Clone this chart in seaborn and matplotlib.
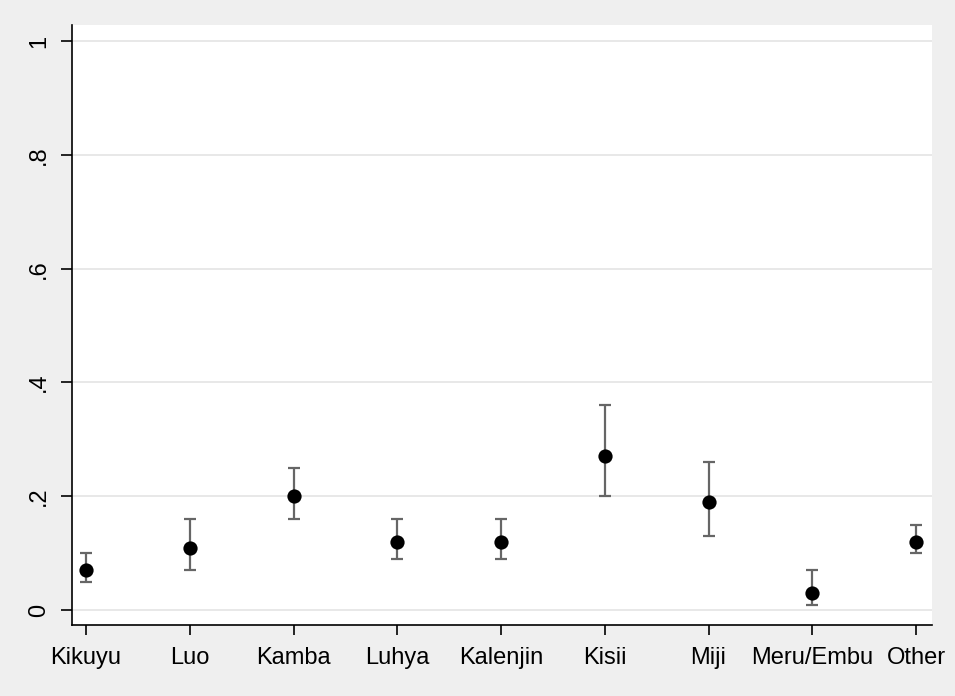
import numpy as np
import pandas as pd
import matplotlib
matplotlib.use("Agg")
import matplotlib.pyplot as plt
import seaborn as sns

# Values
groups = ["Kikuyu", "Luo", "Kamba", "Luhya", "Kalenjin", "Kisii", "Miji", "Meru/Embu", "Other"]
estimate = [0.07, 0.11, 0.20, 0.12, 0.12, 0.27, 0.19, 0.03, 0.12]
lower = [0.05, 0.07, 0.16, 0.09, 0.09, 0.20, 0.13, 0.01, 0.10]
upper = [0.10, 0.16, 0.25, 0.16, 0.16, 0.36, 0.26, 0.07, 0.15]
yticks = [0, 0.2, 0.4, 0.6, 0.8, 1.0]
ytick_labels = ["0", ".2", ".4", ".6", ".8", "1"]

df = pd.DataFrame({"group": groups, "est": estimate, "lo": lower, "hi": upper})
df["pos"] = np.arange(len(df))

sns.set_style("white")
plt.rcParams["font.family"] = ["Liberation Sans", "DejaVu Sans"]

bg = "#efefef"
fig = plt.figure(figsize=(9.55, 6.96), dpi=100, facecolor=bg)
ax = fig.add_axes([72 / 955, 1 - 625 / 696, (932 - 72) / 955, (625 - 25) / 696])
ax.set_facecolor("white")

# gridlines
for t in yticks:
    ax.axhline(t, color="#e4e4e4", lw=1.2, zorder=0)

# confidence intervals
ax.errorbar(df["pos"], df["est"],
            yerr=[df["est"] - df["lo"], df["hi"] - df["est"]],
            fmt="none", ecolor="#666666", elinewidth=1.6, capsize=4.2, capthick=1.6, zorder=2)

# point estimates
sns.scatterplot(data=df, x="pos", y="est", color="black", s=105, edgecolor="black",
                linewidth=0, ax=ax, zorder=3, legend=False)

ax.set_xlim(-0.135, 8.154)
ax.set_ylim(-0.026, 1.028)
ax.set_xticks(df["pos"])
ax.set_xticklabels(groups, fontsize=17, color="black")
ax.set_yticks(yticks)
ax.set_yticklabels(ytick_labels, fontsize=17, rotation=90, va="center", color="black")
ax.set_xlabel("")
ax.set_ylabel("")

for s in ["top", "right"]:
    ax.spines[s].set_visible(False)
for s in ["left", "bottom"]:
    ax.spines[s].set_color("black")
    ax.spines[s].set_linewidth(1.2)

ax.tick_params(axis="x", direction="out", length=7.5, width=1.2, color="black", pad=8, bottom=True)
ax.tick_params(axis="y", direction="out", length=8, width=1.2, color="black", pad=8, left=True)

fig.savefig("out.png", dpi=100, facecolor=bg)
